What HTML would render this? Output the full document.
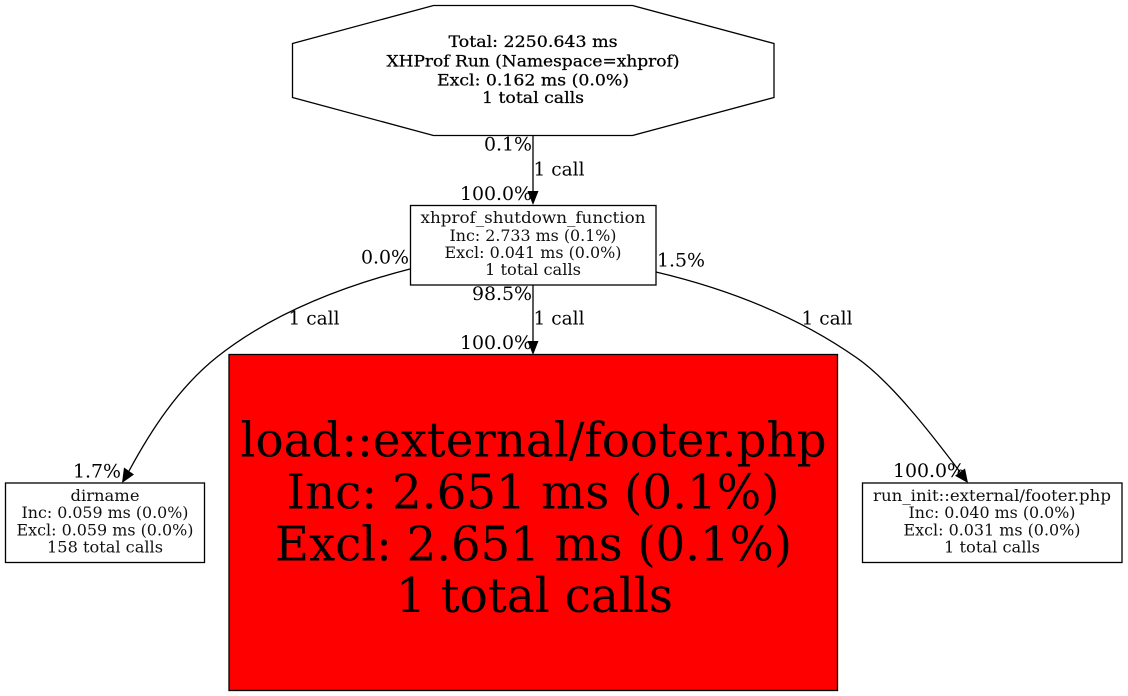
<!DOCTYPE html>
<html>
<head>
<meta charset="utf-8">
<style>
html,body{margin:0;padding:0;background:#fff;width:1128px;height:696px;overflow:hidden}
svg{display:block}
text{font-family:"DejaVu Serif","Liberation Serif",serif;fill:#000;text-anchor:middle}
.s{font-size:15.5px;fill:#111}
.e{font-size:18.2px}
.m{font-size:16px;stroke:#000;stroke-width:.25px}
.b{font-size:47.5px}
</style>
</head>
<body>
<svg width="1128" height="696" viewBox="0 0 1128 696" xmlns="http://www.w3.org/2000/svg">
<rect width="1128" height="696" fill="#fff"/>
<polygon points="433.5,5.5 632.5,5.5 774,43.5 774,97.5 632.5,135.5 433.5,135.5 292.5,97.5 292.5,43.5" fill="#fff" stroke="#000" stroke-width="1.3"/>
<text class="m" x="533" y="47" textLength="169" lengthAdjust="spacingAndGlyphs">Total: 2250.643 ms</text>
<text class="m" x="533" y="66.5" textLength="293" lengthAdjust="spacingAndGlyphs">XHProf Run (Namespace=xhprof)</text>
<text class="m" x="533" y="85.5" textLength="192" lengthAdjust="spacingAndGlyphs">Excl: 0.162 ms (0.0%)</text>
<text class="m" x="533" y="103" textLength="102" lengthAdjust="spacingAndGlyphs">1 total calls</text>

<path d="M533 136V192" fill="none" stroke="#000" stroke-width="1.3"/>
<polygon points="527.5,191 538.5,191 533,205" fill="#000"/>
<text class="e" x="508" y="150.5" textLength="48" lengthAdjust="spacingAndGlyphs">0.1%</text>
<text class="e" x="559" y="175.5" textLength="51" lengthAdjust="spacingAndGlyphs">1 call</text>
<text class="e" x="496" y="200" textLength="72" lengthAdjust="spacingAndGlyphs">100.0%</text>

<rect x="410.5" y="205.5" width="245.5" height="79.5" fill="#fff" stroke="#000" stroke-width="1.3"/>
<text class="s" x="533" y="223" textLength="225" lengthAdjust="spacingAndGlyphs">xhprof_shutdown_function</text>
<text class="s" x="533" y="241" textLength="167" lengthAdjust="spacingAndGlyphs">Inc: 2.733 ms (0.1%)</text>
<text class="s" x="533" y="258" textLength="177" lengthAdjust="spacingAndGlyphs">Excl: 0.041 ms (0.0%)</text>
<text class="s" x="533" y="275" textLength="96" lengthAdjust="spacingAndGlyphs">1 total calls</text>

<path d="M533 285V342" fill="none" stroke="#000" stroke-width="1.3"/>
<polygon points="527.5,341 538.5,341 533,355" fill="#000"/>
<text class="e" x="502" y="300" textLength="60" lengthAdjust="spacingAndGlyphs">98.5%</text>
<text class="e" x="559" y="324.5" textLength="51" lengthAdjust="spacingAndGlyphs">1 call</text>
<text class="e" x="496" y="349" textLength="72" lengthAdjust="spacingAndGlyphs">100.0%</text>

<path d="M410 269C340 287 270 315 217 357C178 388 150 432 129 471" fill="none" stroke="#000" stroke-width="1.3"/>
<polygon points="134,474.5 124,467.5 122,483" fill="#000"/>
<text class="e" x="385" y="263.5" textLength="48" lengthAdjust="spacingAndGlyphs">0.0%</text>
<text class="e" x="314" y="324.5" textLength="51" lengthAdjust="spacingAndGlyphs">1 call</text>
<text class="e" x="97" y="477.5" textLength="48" lengthAdjust="spacingAndGlyphs">1.7%</text>

<path d="M656 272C745 293 810 325 857 358C890 381 930 432 960 472" fill="none" stroke="#000" stroke-width="1.3"/>
<polygon points="965,468.5 955,475.7 968,483" fill="#000"/>
<text class="e" x="681" y="266.5" textLength="48" lengthAdjust="spacingAndGlyphs">1.5%</text>
<text class="e" x="827" y="324.5" textLength="51" lengthAdjust="spacingAndGlyphs">1 call</text>
<text class="e" x="929" y="477" textLength="72" lengthAdjust="spacingAndGlyphs">100.0%</text>

<rect x="229" y="354.5" width="608.5" height="336" fill="#ff0000" stroke="#000" stroke-width="1.3"/>
<text class="b" x="533.5" y="456.5" textLength="586" lengthAdjust="spacingAndGlyphs">load::external/footer.php</text>
<text class="b" x="533" y="508.5" textLength="493" lengthAdjust="spacingAndGlyphs">Inc: 2.651 ms (0.1%)</text>
<text class="b" x="533.5" y="560.5" textLength="517" lengthAdjust="spacingAndGlyphs">Excl: 2.651 ms (0.1%)</text>
<text class="b" x="534.5" y="612" textLength="277" lengthAdjust="spacingAndGlyphs">1 total calls</text>

<rect x="5.5" y="483" width="199" height="79.5" fill="#fff" stroke="#000" stroke-width="1.3"/>
<text class="s" x="105" y="501" textLength="69" lengthAdjust="spacingAndGlyphs">dirname</text>
<text class="s" x="105" y="518" textLength="167" lengthAdjust="spacingAndGlyphs">Inc: 0.059 ms (0.0%)</text>
<text class="s" x="105" y="535.5" textLength="177" lengthAdjust="spacingAndGlyphs">Excl: 0.059 ms (0.0%)</text>
<text class="s" x="105" y="552.5" textLength="116" lengthAdjust="spacingAndGlyphs">158 total calls</text>

<rect x="862.5" y="483" width="259.5" height="79.5" fill="#fff" stroke="#000" stroke-width="1.3"/>
<text class="s" x="992" y="501" textLength="238" lengthAdjust="spacingAndGlyphs">run_init::external/footer.php</text>
<text class="s" x="992" y="518" textLength="167" lengthAdjust="spacingAndGlyphs">Inc: 0.040 ms (0.0%)</text>
<text class="s" x="992" y="535.5" textLength="177" lengthAdjust="spacingAndGlyphs">Excl: 0.031 ms (0.0%)</text>
<text class="s" x="992" y="552.5" textLength="96" lengthAdjust="spacingAndGlyphs">1 total calls</text>
</svg>
</body>
</html>
